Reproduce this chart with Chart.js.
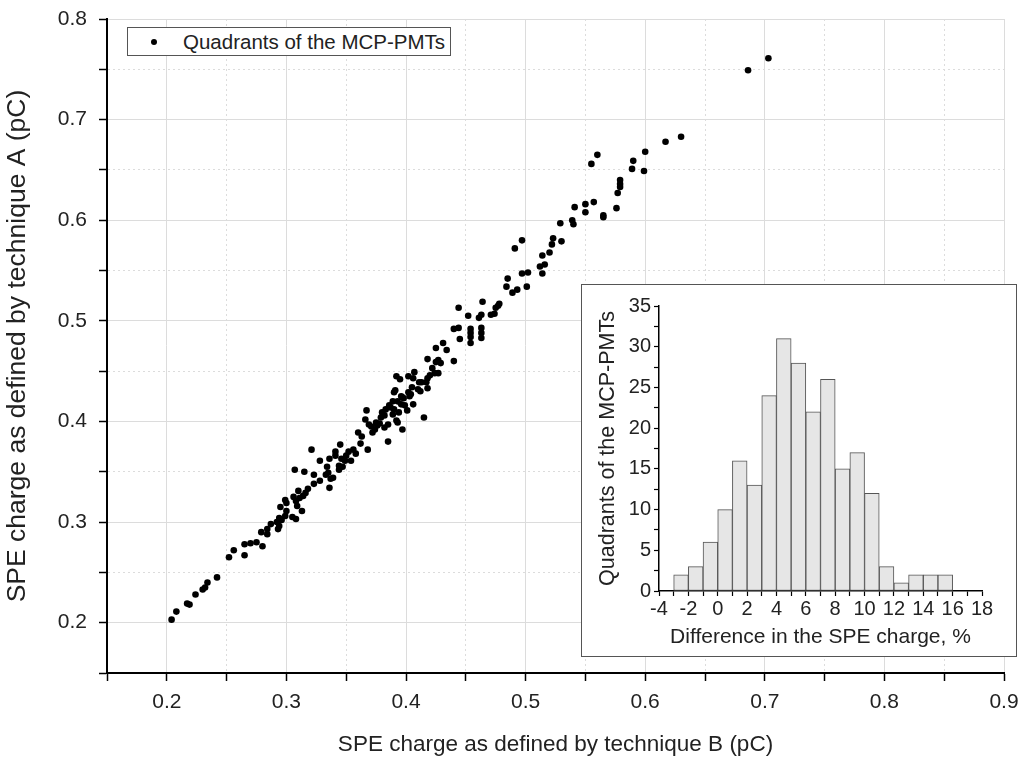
<!DOCTYPE html>
<html>
<head>
<meta charset="utf-8">
<script src="https://cdn.jsdelivr.net/npm/chart.js@4.4.1/dist/chart.umd.min.js"></script>
<style>
    html, body { margin: 0; padding: 0; background: #fff; }
    #wrap { position: relative; width: 1029px; height: 765px; font-family: "Liberation Sans", Arial, sans-serif; }
    #main { position: absolute; left: 0; top: 0; }
    #legend {
        position: absolute; left: 127px; top: 27px; width: 324px; height: 29px;
        box-sizing: border-box; border: 1px solid #555; background: #fff;
        font-size: 20.5px; line-height: 27px; color: #222; white-space: nowrap;
    }
    #legend .dot {
        position: absolute; left: 23px; top: 11px; width: 6px; height: 6px;
        border-radius: 50%; background: #000;
    }
    #legend .txt { position: absolute; left: 55px; top: 0; }
    #inset {
        position: absolute; left: 581px; top: 284px; width: 436px; height: 373px;
        box-sizing: border-box; border: 1px solid #555; background: #fff;
    }
    #inset canvas { position: absolute; left: 0; top: 0; }
</style>
</head>
<body>
<div id="wrap">
    <canvas id="main" width="1029" height="765"></canvas>
    <div id="legend"><span class="dot"></span><span class="txt">Quadrants of the MCP-PMTs</span></div>
    <div id="inset"><canvas id="hist" width="434" height="371"></canvas></div>
</div>
<script>
// scatter: SPE charge by technique B (x) vs technique A (y), pC
const speB = [
    0.204, 0.208, 0.217, 0.219, 0.224, 0.230, 0.232, 0.234, 0.242, 0.252,
    0.256, 0.265, 0.265, 0.270, 0.275, 0.280, 0.279, 0.284, 0.284, 0.287,
    0.292, 0.294, 0.293, 0.294, 0.296, 0.299, 0.299, 0.300, 0.295, 0.300,
    0.305, 0.306, 0.308, 0.309, 0.308, 0.307, 0.310, 0.311, 0.313, 0.315,
    0.314, 0.316, 0.318, 0.321, 0.323, 0.323, 0.328, 0.328, 0.333, 0.335,
    0.334, 0.336, 0.336, 0.337, 0.339, 0.341, 0.341, 0.344, 0.344, 0.345,
    0.346, 0.347, 0.350, 0.349, 0.352, 0.354, 0.356, 0.358, 0.360, 0.362,
    0.363, 0.368, 0.367, 0.366, 0.369, 0.371, 0.374, 0.375, 0.376, 0.379,
    0.380, 0.382, 0.383, 0.385, 0.385, 0.386, 0.389, 0.389, 0.390, 0.392,
    0.395, 0.393, 0.394, 0.397, 0.397, 0.399, 0.401, 0.402, 0.403, 0.405,
    0.406, 0.407, 0.410, 0.413, 0.415, 0.417, 0.418, 0.418, 0.422, 0.425,
    0.425, 0.406, 0.418, 0.411, 0.412, 0.402, 0.391, 0.431, 0.434, 0.427,
    0.429, 0.440, 0.424, 0.427, 0.420, 0.396, 0.398, 0.404, 0.393, 0.396,
    0.387, 0.390, 0.382, 0.392, 0.378, 0.372, 0.444, 0.440, 0.444, 0.445,
    0.454, 0.454, 0.454, 0.463, 0.463, 0.463, 0.454, 0.452, 0.461, 0.463,
    0.471, 0.474, 0.464, 0.475, 0.477, 0.478, 0.485, 0.484, 0.489, 0.493,
    0.501, 0.497, 0.502, 0.491, 0.497, 0.514, 0.520, 0.512, 0.516, 0.514,
    0.523, 0.522, 0.530, 0.529, 0.539, 0.540, 0.541, 0.550, 0.550, 0.557,
    0.565, 0.565, 0.576, 0.577, 0.579, 0.579, 0.579, 0.555, 0.560, 0.589,
    0.590, 0.599, 0.600, 0.617, 0.630, 0.686, 0.703
];
const speA = [
    0.203, 0.211, 0.219, 0.218, 0.228, 0.233, 0.235, 0.240, 0.245, 0.265,
    0.272, 0.267, 0.278, 0.279, 0.280, 0.276, 0.290, 0.288, 0.293, 0.298,
    0.300, 0.304, 0.293, 0.296, 0.302, 0.306, 0.322, 0.319, 0.315, 0.311,
    0.305, 0.325, 0.321, 0.316, 0.303, 0.352, 0.331, 0.324, 0.311, 0.350,
    0.326, 0.329, 0.333, 0.372, 0.347, 0.338, 0.361, 0.341, 0.347, 0.349,
    0.355, 0.363, 0.334, 0.343, 0.344, 0.370, 0.366, 0.352, 0.356, 0.377,
    0.363, 0.355, 0.366, 0.361, 0.370, 0.361, 0.372, 0.368, 0.389, 0.378,
    0.385, 0.372, 0.411, 0.402, 0.397, 0.395, 0.392, 0.399, 0.396, 0.404,
    0.409, 0.394, 0.412, 0.397, 0.380, 0.416, 0.407, 0.420, 0.429, 0.445,
    0.442, 0.399, 0.409, 0.392, 0.424, 0.416, 0.411, 0.445, 0.425, 0.434,
    0.417, 0.449, 0.432, 0.439, 0.404, 0.439, 0.462, 0.433, 0.453, 0.473,
    0.459, 0.443, 0.443, 0.439, 0.430, 0.429, 0.431, 0.478, 0.471, 0.461,
    0.458, 0.460, 0.448, 0.448, 0.446, 0.425, 0.423, 0.427, 0.420, 0.417,
    0.414, 0.412, 0.406, 0.401, 0.398, 0.389, 0.513, 0.492, 0.493, 0.482,
    0.492, 0.488, 0.484, 0.493, 0.488, 0.483, 0.478, 0.505, 0.503, 0.506,
    0.506, 0.507, 0.519, 0.513, 0.515, 0.517, 0.542, 0.534, 0.528, 0.531,
    0.534, 0.547, 0.548, 0.572, 0.580, 0.565, 0.568, 0.554, 0.556, 0.547,
    0.582, 0.576, 0.579, 0.597, 0.600, 0.596, 0.613, 0.616, 0.608, 0.618,
    0.605, 0.603, 0.612, 0.627, 0.633, 0.636, 0.640, 0.656, 0.665, 0.651,
    0.659, 0.649, 0.668, 0.678, 0.683, 0.749, 0.761
];

// inset histogram: difference in SPE charge, %
const binCenters = [-2.5, -1.5, -0.5, 0.5, 1.5, 2.5, 3.5, 4.5, 5.5, 6.5, 7.5, 8.5, 9.5, 10.5, 11.5, 12.5, 13.5, 14.5, 15.5];
const binCounts = [2, 3, 6, 10, 16, 13, 24, 31, 28, 22, 26, 15, 17, 12, 3, 1, 2, 2, 2];

const FONT = '"Liberation Sans", Arial, sans-serif';

function onStep(v, step) {
    return Math.abs(v / step - Math.round(v / step)) < 1e-6;
}

const mainGrid = {
    color: '#dcdcdc',
    lineWidth: 1,
    tickColor: '#000',
    tickWidth: 1.5,
    tickLength: 8
};
const mainBorder = {
    color: '#000',
    width: 2,
    dash: (c) => (c.tick && !onStep(c.tick.value, 0.1)) ? [2, 3] : []
};

new Chart(document.getElementById('main'), {
    type: 'scatter',
    data: {
        datasets: [{
            label: 'Quadrants of the MCP-PMTs',
            data: speB.map((x, i) => ({ x: x, y: speA[i] })),
            pointRadius: 3.3,
            pointBackgroundColor: '#000',
            pointBorderWidth: 0
        }]
    },
    options: {
        responsive: false,
        animation: false,
        layout: { padding: { left: 0, right: 25, top: 19, bottom: 0 } },
        plugins: { legend: { display: false }, tooltip: { enabled: false } },
        scales: {
            x: {
                type: 'linear', min: 0.15, max: 0.9,
                afterFit: (s) => { s.height = 92; },
                grid: mainGrid,
                border: mainBorder,
                ticks: {
                    stepSize: 0.05, autoSkip: false, maxRotation: 0, padding: 9,
                    color: '#222', font: { family: FONT, size: 21 },
                    callback: (v) => onStep(v, 0.1) ? v.toFixed(1) : ''
                },
                title: {
                    display: true, text: 'SPE charge as defined by technique B (pC)',
                    color: '#222', font: { family: FONT, size: 22.5 },
                    padding: { top: 0, bottom: 7 }
                }
            },
            y: {
                type: 'linear', min: 0.15, max: 0.8,
                afterFit: (s) => {
                    s.width = 107;
                    // the top label may overhang into the page margin
                    s.paddingTop = 0;
                    s.paddingBottom = 0;
                },
                grid: mainGrid,
                border: mainBorder,
                ticks: {
                    stepSize: 0.05, autoSkip: false, padding: 12,
                    color: '#222', font: { family: FONT, size: 21 },
                    callback: (v) => onStep(v, 0.1) ? v.toFixed(1) : ''
                },
                title: {
                    display: true, text: 'SPE charge as defined by technique A (pC)',
                    color: '#222', font: { family: FONT, size: 26.5 },
                    padding: { top: 2, bottom: 0 }
                }
            }
        }
    }
});

new Chart(document.getElementById('hist'), {
    type: 'bar',
    data: {
        datasets: [{
            data: binCenters.map((c, i) => ({ x: c, y: binCounts[i] })),
            backgroundColor: '#e6e6e6',
            borderColor: '#555',
            borderWidth: 1,
            borderSkipped: false,
            barPercentage: 1,
            categoryPercentage: 1
        }]
    },
    options: {
        responsive: false,
        animation: false,
        layout: { padding: { left: 0, right: 34, top: 21, bottom: 0 } },
        plugins: { legend: { display: false }, tooltip: { enabled: false } },
        scales: {
            x: {
                type: 'linear', min: -4, max: 18, offset: false,
                afterFit: (s) => { s.height = 65; },
                grid: { drawOnChartArea: false, offset: false, tickColor: '#000', tickWidth: 1.2, tickLength: 5 },
                border: { color: '#000', width: 1.5 },
                ticks: {
                    stepSize: 1, autoSkip: false, maxRotation: 0, padding: 1,
                    color: '#222', font: { family: FONT, size: 20 },
                    callback: (v) => onStep(v, 2) ? String(v) : ''
                },
                title: {
                    display: true, text: 'Difference in the SPE charge, %',
                    color: '#222', font: { family: FONT, size: 21 },
                    padding: { top: 0, bottom: 6 }
                }
            },
            y: {
                min: 0, max: 35,
                afterFit: (s) => { s.width = 77; },
                grid: { drawOnChartArea: false, tickColor: '#000', tickWidth: 1.2, tickLength: 5 },
                border: { color: '#000', width: 1.5 },
                ticks: {
                    stepSize: 2.5, autoSkip: false, padding: 3,
                    color: '#222', font: { family: FONT, size: 20 },
                    callback: (v) => onStep(v, 5) ? String(v) : ''
                },
                title: {
                    display: true, text: 'Quadrants of the MCP-PMTs',
                    color: '#222', font: { family: FONT, size: 21.5 },
                    padding: { top: 13, bottom: 0 }
                }
            }
        }
    }
});
</script>
</body>
</html>
